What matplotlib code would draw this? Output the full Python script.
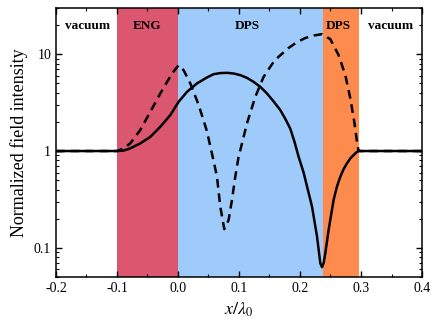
import matplotlib
matplotlib.use("Agg")
import matplotlib.pyplot as plt
from matplotlib.ticker import LogLocator, NullFormatter, MultipleLocator, FixedLocator, FixedFormatter

plt.rcParams['font.family'] = ['Liberation Serif', 'DejaVu Serif']
plt.rcParams['mathtext.fontset'] = 'stix'

# region boundaries (x/lambda0)
regions = [(-0.2, -0.1, 'vacuum', None),
           (-0.1, 0.0, 'ENG', '#DB576F'),
           (0.0, 0.237, 'DPS', '#9FCBFA'),
           (0.237, 0.296, 'DPS', '#FE8B4E'),
           (0.296, 0.4, 'vacuum', None)]
region_label_x = [-0.148, -0.05, 0.113, 0.262, 0.348]

# solid curve
solid_x = [-0.2, -0.1, -0.0892, -0.0782, -0.0618, -0.0454, -0.029, -0.0126, 0.001, 0.0148,
           0.0311, 0.0475, 0.0584, 0.0693, 0.0803, 0.0912, 0.1021, 0.113, 0.1239, 0.135,
           0.1459, 0.1568, 0.1677, 0.1759, 0.1841, 0.1909, 0.1977, 0.2059, 0.2128, 0.2197,
           0.2279, 0.2333, 0.2361, 0.2388, 0.2415, 0.2469, 0.2551, 0.2606, 0.2661, 0.2715,
           0.277, 0.2825, 0.2879, 0.2925, 0.296, 0.4]
solid_y = [1.0, 1.0, 1.01, 1.066, 1.2, 1.40, 1.78, 2.35, 3.22, 4.09,
           4.99, 5.75, 6.22, 6.38, 6.42, 6.32, 6.08, 5.7, 5.18, 4.6,
           3.93, 3.25, 2.65, 2.15, 1.7, 1.25, 0.874, 0.6, 0.40, 0.267,
           0.131, 0.0695, 0.0632, 0.0700, 0.088, 0.153, 0.313, 0.43, 0.543, 0.65,
           0.747, 0.84, 0.91, 0.97, 1.0, 1.0]

# dashed curve
dash_x = [-0.2, -0.1, -0.0892, -0.0782, -0.0618, -0.0454, -0.029, -0.0098, 0.001, 0.0092,
          0.0202, 0.0338, 0.0475, 0.0529, 0.0584, 0.0639, 0.0693, 0.0759, 0.0830, 0.0885,
          0.0939, 0.0993, 0.1021, 0.1131, 0.1267, 0.1403, 0.1567, 0.1649, 0.1813, 0.195,
          0.2087, 0.2224, 0.2361, 0.2497, 0.2633, 0.2743, 0.2825, 0.289, 0.2934, 0.296, 0.4]
dash_y = [1.0, 1.0, 1.06, 1.2, 1.65, 2.54, 3.93, 6.32, 7.7, 6.84,
          4.99, 3.0, 1.6, 1.12, 0.79, 0.543, 0.267, 0.156, 0.194, 0.313,
          0.543, 0.87, 1.02, 1.93, 3.63, 5.83, 8.33, 9.4, 11.6, 13.3,
          14.7, 15.6, 16.1, 14.3, 9.77, 6.08, 3.49, 2.0, 1.25, 1.0, 1.0]

fig = plt.figure(figsize=(4.36, 3.29), dpi=100)
ax = fig.add_axes([0.1284, 0.158, 0.8395, 0.8177])

for x0, x1, name, col in regions:
    if col:
        ax.axvspan(x0, x1, color=col, lw=0, zorder=0)
for (x0, x1, name, col), lx in zip(regions, region_label_x):
    ax.text(lx, 19.5, name, ha='center', va='center', fontsize=9.5,
            fontweight='bold', zorder=3)

ax.plot(solid_x, solid_y, color='black', lw=1.8, zorder=2, solid_joinstyle='round')
ax.plot(dash_x, dash_y, color='black', lw=1.8, ls=(0, (3.5, 2.3)), zorder=2)

ax.set_yscale('log')
ax.set_xlim(-0.2, 0.4)
ax.set_ylim(0.05, 30)
ax.xaxis.set_minor_locator(MultipleLocator(0.05))
ax.set_xticks([-0.2, -0.1, 0.0, 0.1, 0.2, 0.3, 0.4])
ax.set_xticklabels(['-0.2', '-0.1', '0.0', '0.1', '0.2', '0.3', '0.4'])
ax.yaxis.set_major_locator(FixedLocator([0.1, 1, 10]))
ax.yaxis.set_major_formatter(FixedFormatter(['0.1', '1', '10']))
ax.yaxis.set_minor_locator(LogLocator(base=10, subs=range(2, 10), numticks=20))
ax.yaxis.set_minor_formatter(NullFormatter())

ax.tick_params(which='both', direction='in', top=True, right=True, labelsize=10)
ax.tick_params(which='major', length=4, width=1)
ax.tick_params(which='minor', length=2.5, width=0.8)
for s in ax.spines.values():
    s.set_linewidth(1.1)

ax.set_xlabel(r'$x/\lambda_0$', fontsize=13, labelpad=4)
ax.set_ylabel('Normalized field intensity', fontsize=13, labelpad=4)

fig.savefig('out.png', dpi=100)
